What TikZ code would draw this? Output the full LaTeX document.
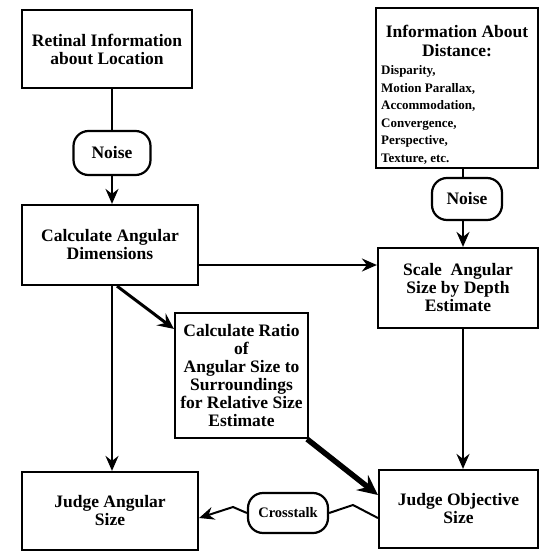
\documentclass[tikz,border=0pt]{standalone}
\usepackage{fontspec}
\setmainfont{Liberation Serif}
\usetikzlibrary{arrows.meta,calc}
\begin{document}
\begin{tikzpicture}[x=1pt,y=-1pt,
  box/.style={draw, line width=2.2pt, align=center, inner sep=0pt,
    font=\fontsize{17.5}{18}\selectfont\bfseries},
  pill/.style={draw, line width=2.2pt, rounded corners=15pt, align=center, inner sep=0pt,
    font=\fontsize{17.5}{18}\selectfont\bfseries},
  lbl/.style={inner sep=0pt, align=center, font=\fontsize{17.5}{18.5}\selectfont\bfseries},
  lst/.style={inner sep=0pt, align=left, font=\fontsize{13}{17.6}\selectfont\bfseries},
  conn/.style={line width=2pt},
  arr/.style={conn, -{Stealth[length=15pt,width=13pt,inset=5pt]}},
  bigarr/.style={line width=5.5pt, -{Stealth[length=20pt,width=19pt,inset=7pt]}},
  medarr/.style={line width=3pt, -{Stealth[length=16pt,width=15pt,inset=6pt]}},
]
\useasboundingbox (0,0) rectangle (540,552);

\node[box, minimum width=170pt, minimum height=78pt] (ret) at (107,49) {Retinal Information\\about Location};
\node[pill, minimum width=77pt, minimum height=44pt] (noiseA) at (112,153) {Noise};
\node[box, minimum width=176pt, minimum height=80pt] (calc) at (110,245) {Calculate Angular\\Dimensions};

\node[box, minimum width=162pt, minimum height=160pt] (dist) at (457,88) {};
\node[lbl] (distH) at (457,41) {Information About\\Distance:};
\node[lst, anchor=west] (distL) at (381,115) {Disparity,\\Motion Parallax,\\Accommodation,\\Convergence,\\Perspective,\\Texture, etc.};
\node[pill, minimum width=70pt, minimum height=42pt] (noiseB) at (467,199) {Noise};
\node[box, minimum width=160pt, minimum height=80pt] (scale) at (458,288) {Scale\ \ Angular\\Size by Depth\\Estimate};

\node[box, minimum width=133pt, minimum height=125pt] (ratio) at (241.5,375.5) {Calculate Ratio\\of\\Angular Size to\\Surroundings\\for Relative Size\\Estimate};

\node[box, minimum width=176pt, minimum height=78pt] (jas) at (110,511) {Judge Angular\\Size};
\node[box, minimum width=159pt, minimum height=78pt] (jos) at (458.5,509) {Judge Objective\\Size};
\node[pill, font=\fontsize{14.5}{16}\selectfont\bfseries, minimum width=80pt, minimum height=40pt] (cross) at (288,513) {Crosstalk};

% connectors
\draw[conn] (ret.south -| noiseA.north) -- (noiseA.north);
\draw[arr] (noiseA.south) -- (noiseA.south |- calc.north);
\draw[conn] (dist.south -| 463,0) -- (noiseB.north -| 463,0);
\draw[arr] (noiseB.south -| 463,0) -- (scale.north -| 463,0);

\draw[arr] ($(calc.east)+(0,20)$) -- ($(scale.west)+(0,-23)$);
\draw[arr] (calc.south -| 112,0) -- (jas.north -| 112,0);
\draw[arr] (scale.south -| 463,0) -- (jos.north -| 463,0);

\draw[medarr] ($(calc.south)+(7,0)$) -- ($(ratio.north west)+(0,17)$);
\draw[bigarr] ($(ratio.south east)+(-2,0)$) -- ($(jos.west)+(0,-14)$);

\coordinate (k1) at (353,505);
\coordinate (k2) at (233,507);
\draw[conn] ($(jos.west)+(0,9)$) -- (k1) -- (cross.east);
\draw[arr] (cross.west) -- (k2) -- ($(jas.east)+(0,7)$);
\end{tikzpicture}
\end{document}
